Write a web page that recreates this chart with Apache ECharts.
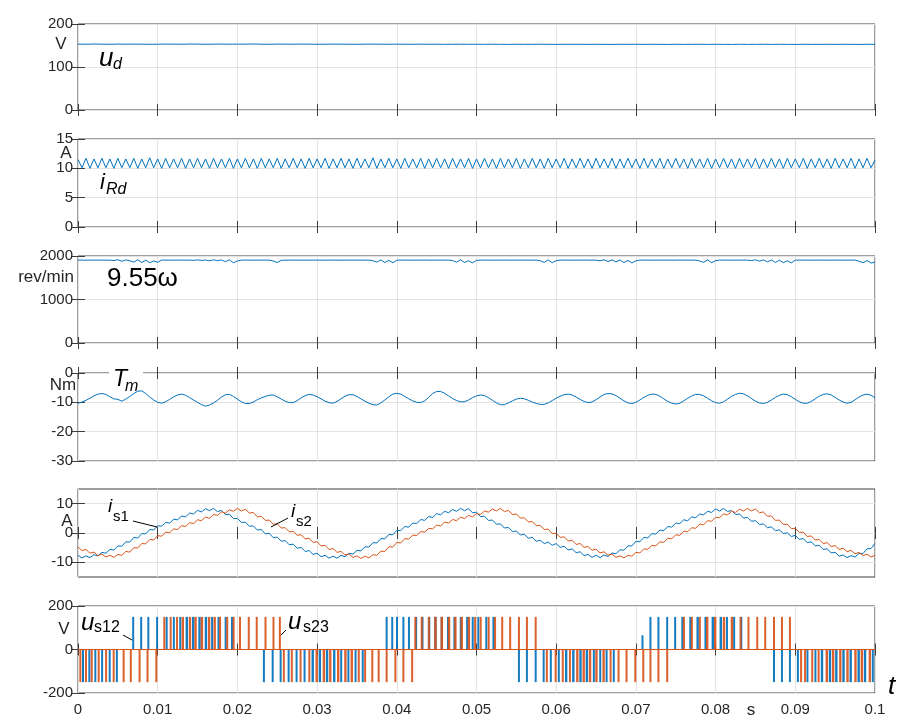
<!DOCTYPE html>
<html>
<head>
<meta charset="utf-8">
<script src="https://cdn.jsdelivr.net/npm/echarts@6/dist/echarts.min.js"></script>
<style>
  html, body { margin: 0; padding: 0; background: #ffffff; }
  #chart { width: 900px; height: 720px; }
</style>
</head>
<body>
<div id="chart"></div>
<script>
// ---------------- data ----------------
// time axis (s)
const tMin = 0, tMax = 0.1, tStep = 0.01;

// DC link voltage u_d (V), 1 ms samples
const udStepMs = 1;
const ud = [
  153.2,153.0,153.4,153.1,152.9,153.3,153.0,153.2,153.1,152.8,
  153.0,153.3,153.1,153.0,153.4,153.2,152.9,153.1,153.3,153.0,
  153.2,153.1,153.5,153.0,152.9,153.2,153.1,153.0,153.3,153.1,
  152.9,153.0,153.2,153.1,153.0,152.8,153.1,153.2,153.0,152.9,
  153.1,153.0,152.8,153.1,152.9,153.0,152.7,152.9,153.0,152.8,
  152.9,152.7,153.0,152.8,152.6,152.9,152.8,152.7,153.0,152.8,
  152.6,152.9,152.7,152.8,152.6,152.9,152.7,152.5,152.8,152.7,
  152.9,152.6,152.8,152.7,152.5,152.8,152.6,152.7,152.9,152.6,
  152.8,152.7,152.5,152.8,152.6,152.7,152.9,152.6,152.8,152.7,
  152.5,152.8,152.6,152.7,152.9,152.6,152.8,152.7,152.5,152.8,
  152.7
];

// resistor current i_Rd (A), 0.5 ms samples
const iRdStepMs = 0.5;
const iRd = [
  11.5,10.1,11.7,10.0,11.6,10.1,11.7,10.1,11.6,10.0,
  11.7,10.1,11.6,10.1,11.7,10.0,11.6,10.1,11.8,10.1,
  11.6,10.0,11.7,10.1,11.6,10.1,11.7,10.0,11.6,10.1,
  11.7,10.1,11.6,10.0,11.7,10.1,11.6,10.1,11.7,10.0,
  11.6,10.1,11.7,10.1,11.6,10.0,11.7,10.1,11.6,10.1,
  11.7,10.0,11.6,10.1,11.7,10.1,11.6,10.0,11.7,10.1,
  11.6,10.1,11.7,10.0,11.6,10.1,11.7,10.1,11.6,10.0,
  11.7,10.1,11.6,10.1,11.8,10.0,11.6,10.1,11.7,10.1,
  11.6,10.0,11.7,10.1,11.6,10.1,11.7,10.0,11.6,10.1,
  11.7,10.1,11.6,10.0,11.7,10.1,11.6,10.1,11.7,10.0,
  11.6,10.1,11.7,10.1,11.6,10.0,11.7,10.1,11.6,10.1,
  11.7,10.0,11.6,10.1,11.7,10.1,11.6,10.0,11.7,10.1,
  11.6,10.1,11.7,10.0,11.6,10.1,11.7,10.1,11.6,10.0,
  11.7,10.1,11.6,10.1,11.7,10.0,11.6,10.1,11.7,10.1,
  11.6,10.0,11.7,10.1,11.6,10.1,11.7,10.0,11.6,10.1,
  11.7,10.1,11.6,10.0,11.7,10.1,11.6,10.1,11.7,10.0,
  11.6,10.1,11.7,10.1,11.6,10.0,11.7,10.1,11.6,10.1,
  11.7,10.0,11.6,10.1,11.7,10.1,11.6,10.0,11.7,10.1,
  11.6,10.1,11.7,10.0,11.6,10.1,11.7,10.1,11.6,10.0,
  11.7,10.1,11.6,10.1,11.7,10.0,11.6,10.1,11.7,10.1,
  11.4
];

// rotor speed 9.55*omega (rev/min), 0.5 ms samples
const speedStepMs = 0.5;
const speed = [
  1905,1906,1904,1905,1905,1906,1905,1904,1905,
  1895,1915,1880,1910,1890,1860,1912,1850,1905,1845,1885,1855,
  1906,1905,1904,1905,1906,1905,1904,1905,
  1900,1910,1898,1908,1890,1912,1895,1908,1870,1910,1845,1885,
  1905,1906,1905,1904,1905,1905,1906,1905,
  1885,1850,1900,
  1905,1904,1906,1905,1905,1904,1905,1906,1905,1905,1904,1905,1906,1905,1904,1905,1905,1906,1905,1904,1905,1905,
  1890,1860,1910,1850,1900,1845,1905,
  1905,1906,1905,1904,1905,1905,1906,1905,1904,1905,1906,1905,1905,
  1895,1858,1912,1850,1890,1842,1900,
  1905,1906,1905,1904,1905,1905,1906,1905,1904,1905,1906,1905,1905,1904,1905,
  1890,1855,1910,1845,1895,
  1905,1906,1905,1904,1905,1905,1906,1905,1904,1905,
  1890,1912,1875,1910,1865,1908,1850,1900,1840,1890,
  1905,1906,1905,1904,1905,1905,1906,1905,1904,1905,1906,1905,1905,1904,1905,
  1885,1855,1910,1845,1895,
  1905,1906,1905,1904,1905,1905,1906,1905,
  1895,1912,1880,1910,1865,1908,1852,1902,1848,1890,1842,
  1905,1906,1905,1904,1905,1905,1906,1905,1904,1905,1906,1905,1905,1904,1905,1906,
  1880,1845,1895,1838,1860
];

// electromagnetic torque T_m (Nm), 0.5 ms samples
const tmStepMs = 0.5;
const torque = [
  -10.3,-9.9,-9.3,-8.6,-7.8,-7.2,-7.0,-7.3,-8.1,-8.8,
  -9.0,-9.6,-8.9,-8.0,-7.0,-6.2,-6.1,-7.0,-8.2,-9.2,
  -10.0,-10.3,-9.8,-9.0,-8.1,-7.5,-7.2,-7.6,-8.4,-9.2,
  -10.0,-10.8,-11.3,-10.9,-10.2,-9.3,-8.2,-7.4,-7.3,-8.0,
  -8.9,-9.8,-10.4,-10.4,-9.9,-9.1,-8.5,-8.0,-7.6,-7.5,
  -8.1,-8.9,-9.6,-10.1,-10.1,-9.4,-8.5,-7.7,-7.3,-7.5,
  -8.1,-8.8,-9.6,-10.1,-10.3,-9.7,-8.8,-7.9,-7.4,-7.4,
  -8.0,-8.8,-9.6,-10.3,-10.8,-10.9,-10.2,-9.2,-8.1,-7.2,
  -6.9,-7.2,-8.0,-8.8,-9.5,-10.0,-10.1,-9.5,-8.3,-7.0,
  -6.3,-6.3,-6.9,-7.8,-8.7,-9.4,-9.8,-9.8,-9.2,-8.4,
  -7.8,-7.5,-7.7,-8.4,-9.3,-10.2,-10.8,-10.8,-10.2,-9.5,
  -8.9,-8.6,-8.8,-9.3,-9.9,-10.4,-10.7,-10.7,-10.2,-9.4,
  -8.6,-7.9,-7.4,-7.2,-7.5,-8.2,-9.0,-9.7,-10.1,-9.9,
  -9.1,-8.2,-7.3,-7.0,-7.1,-7.7,-8.6,-9.5,-10.2,-10.4,
  -10.0,-9.2,-8.3,-7.6,-7.2,-7.3,-7.9,-8.8,-9.7,-10.3,
  -10.6,-10.3,-9.5,-8.6,-7.8,-7.3,-7.3,-7.8,-8.6,-9.5,
  -10.1,-10.3,-9.8,-8.9,-8.0,-7.3,-6.9,-7.1,-7.8,-8.7,
  -9.6,-10.2,-10.4,-10.0,-9.2,-8.3,-7.6,-7.2,-7.4,-8.1,
  -9.0,-9.8,-10.3,-10.3,-9.7,-8.8,-7.9,-7.3,-7.1,-7.5,
  -8.3,-9.2,-9.9,-10.3,-10.0,-9.1,-8.2,-7.5,-7.2,-7.6,
  -8.4
];

// stator currents i_s1, i_s2 (A), 0.5 ms samples
const isStepMs = 0.5;
const is1 = [
  -7.6,-8.5,-7.8,-8.4,-7.4,-7.8,-6.6,-6.9,-5.6,-5.8,
  -4.4,-4.5,-3.0,-3.1,-1.5,-1.7,-0.2,-0.3,1.2,1.0,
  2.5,2.3,3.6,3.4,4.7,4.5,5.8,5.5,6.8,6.5,
  7.7,7.2,8.3,7.6,8.4,7.3,7.7,6.3,6.4,4.9,
  5.0,3.6,3.7,2.3,2.4,1.0,1.2,-0.3,-0.1,-1.6,
  -1.4,-2.8,-2.6,-4.0,-3.8,-5.2,-4.9,-6.3,-6.0,-7.3,
  -6.9,-8.1,-7.6,-8.6,-7.9,-8.6,-7.6,-8.1,-6.9,-7.2,
  -5.9,-6.1,-4.7,-4.8,-3.3,-3.4,-1.9,-2.0,-0.5,-0.6,
  0.9,0.8,2.2,2.0,3.4,3.2,4.6,4.3,5.6,5.3,
  6.6,6.2,7.4,6.9,8.0,7.4,8.4,7.6,8.3,6.9,
  7.1,5.6,5.7,4.3,4.4,3.0,3.1,1.7,1.9,0.5,
  0.7,-0.7,-0.4,-1.8,-1.5,-2.8,-2.5,-3.6,-3.1,-4.2,
  -3.6,-4.9,-4.5,-5.8,-5.4,-6.7,-6.4,-7.7,-7.3,-8.3,
  -7.6,-8.4,-7.5,-8.0,-6.8,-7.1,-5.7,-5.9,-4.4,-4.4,
  -2.8,-3.0,-1.5,-1.7,-0.2,-0.4,1.0,0.8,2.2,2.0,
  3.4,3.2,4.5,4.2,5.5,5.2,6.5,6.2,7.4,7.0,
  8.2,7.5,8.4,7.3,7.7,6.3,6.5,5.1,5.3,4.0,
  4.2,2.9,3.1,1.8,2.1,0.8,1.1,-0.2,0.1,-1.2,
  -0.8,-2.2,-1.9,-3.3,-3.0,-4.4,-4.2,-5.6,-5.4,-6.8,
  -6.6,-7.9,-7.5,-8.4,-7.7,-8.2,-7.0,-7.0,-5.4,-5.3,
  -3.6
];
const is2 = [
  -4.8,-6.0,-5.6,-6.9,-6.5,-7.7,-7.2,-8.2,-7.6,-8.3,
  -7.3,-7.6,-6.3,-6.5,-5.0,-5.1,-3.6,-3.7,-2.2,-2.4,
  -0.9,-1.1,0.3,0.1,1.4,1.2,2.5,2.2,3.5,3.2,
  4.5,4.2,5.4,5.0,6.3,6.0,7.2,6.8,7.9,7.4,
  8.4,7.5,8.1,6.8,7.0,5.5,5.7,4.3,4.4,3.0,
  3.1,1.7,1.8,0.4,0.6,-0.8,-0.6,-2.0,-1.8,-3.2,
  -3.0,-4.4,-4.2,-5.6,-5.3,-6.6,-6.3,-7.5,-7.1,-8.3,
  -7.8,-8.7,-7.9,-8.5,-7.4,-7.6,-6.2,-6.3,-4.7,-4.8,
  -3.2,-3.4,-1.9,-2.1,-0.7,-0.9,0.5,0.3,1.6,1.4,
  2.7,2.4,3.7,3.4,4.6,4.2,5.4,4.9,6.0,5.5,
  6.6,6.3,7.5,7.1,8.2,7.5,8.4,7.3,7.7,6.3,
  6.5,5.1,5.2,3.8,3.9,2.5,2.6,1.2,1.3,-0.2,
  -0.1,-1.5,-1.3,-2.7,-2.5,-3.9,-3.6,-4.9,-4.6,-5.9,
  -5.5,-6.8,-6.4,-7.6,-7.2,-8.3,-7.8,-8.5,-7.6,-7.9,
  -6.6,-6.8,-5.4,-5.6,-4.2,-4.4,-3.0,-3.2,-1.8,-2.0,
  -0.6,-0.8,0.6,0.4,1.8,1.6,3.0,2.8,4.2,4.0,
  5.4,5.2,6.5,6.2,7.4,7.0,8.1,7.5,8.4,7.5,
  8.2,6.9,7.2,5.7,5.8,4.3,4.4,2.9,3.0,1.5,
  1.6,0.2,0.3,-1.2,-1.0,-2.4,-2.2,-3.6,-3.3,-4.6,
  -4.3,-5.6,-5.2,-6.4,-5.9,-7.1,-6.6,-7.7,-7.2,-8.2,
  -7.6
];

// line voltage pulses: [start (ms), width (ms), optional height (V)]
const pulseLevel = 150;
const us12Pos = [
  [6.8,0.12],[7.8,0.2],[8.7,0.2],[9.8,0.22],[11.0,0.25],[11.9,0.25],[12.7,0.25],[13.5,0.3],[14.3,0.3],[15.1,0.3],[15.9,0.3],[16.7,0.25],[17.5,0.25],[18.4,0.2],[19.2,0.12],
  [38.6,0.12],[39.3,0.15],[39.9,0.2],[40.7,0.2],[41.4,0.2],[42.3,0.25],[43.1,0.25],[43.9,0.3],[44.7,0.3],[45.5,0.3],[46.3,0.3],[47.1,0.3],[47.9,0.25],[48.7,0.25],[49.4,0.25],[50.1,0.2],[51.1,0.2],[52.0,0.15],
  [70.7,0.12,65],[71.7,0.2],[72.7,0.2],[73.8,0.2],[74.8,0.25],[75.7,0.25],[76.7,0.25],[77.6,0.3],[78.6,0.3],[79.5,0.3],[80.5,0.3],[81.3,0.25],[82.2,0.2],[83.1,0.15]
];
const us12Neg = [
  [0.5,0.25],[1.3,0.25],[2.05,0.25],[2.9,0.2],[3.85,0.2],[4.75,0.15],
  [23.2,0.12],[24.3,0.2],[25.3,0.2],[26.3,0.25],[27.3,0.25],[28.3,0.25],[29.3,0.3],[30.2,0.3],[31.1,0.3],[32.0,0.3],[32.9,0.25],[33.8,0.25],[34.7,0.2],[35.6,0.15],
  [55.2,0.12],[56.2,0.2],[57.3,0.2],[58.3,0.25],[59.2,0.25],[60.2,0.25],[61.1,0.3],[62.0,0.3],[62.9,0.3],[63.7,0.3],[64.6,0.25],[65.4,0.25],[66.2,0.2],[67.1,0.15],
  [87.2,0.12],[88.2,0.2],[89.2,0.2],[90.2,0.25],[91.4,0.25],[92.4,0.25],[93.2,0.3],[94.2,0.3],[95.0,0.3],[95.9,0.3],[96.8,0.3],[97.8,0.3],[98.6,0.3],[99.6,0.25]
];
const us23Pos = [
  [10.7,0.2],[11.5,0.25],[12.3,0.25],[13.0,0.3],[13.9,0.3],[14.6,0.3],[15.4,0.3],[16.3,0.3],[17.0,0.3],[17.7,0.25],[18.6,0.25],[19.4,0.25],[20.2,0.2],[21.3,0.2],[22.3,0.2],[23.4,0.2],[24.4,0.15],[25.2,0.12],
  [42.2,0.2],[43.0,0.25],[43.9,0.25],[44.7,0.3],[45.5,0.3],[46.4,0.3],[47.2,0.3],[48.0,0.3],[48.9,0.3],[49.7,0.25],[50.4,0.25],[51.4,0.25],[52.2,0.2],[53.1,0.2],[54.1,0.2],[55.2,0.2],[56.2,0.15],[57.3,0.12],
  [75.9,0.2],[76.9,0.25],[77.9,0.25],[78.8,0.3],[79.8,0.3],[80.9,0.3],[81.9,0.3],[83.0,0.25],[84.0,0.25],[85.1,0.2],[86.1,0.2],[87.2,0.2],[88.2,0.15],[89.2,0.12]
];
const us23Neg = [
  [0.17,0.25],[0.88,0.25],[1.6,0.25],[2.47,0.25],[3.4,0.25],[4.35,0.2],[5.6,0.2],[6.5,0.2],[7.6,0.2],[8.6,0.15],[9.7,0.12],
  [25.7,0.2],[26.7,0.2],[27.8,0.25],[28.9,0.25],[29.8,0.3],[30.7,0.3],[31.5,0.3],[32.5,0.3],[33.4,0.3],[34.2,0.3],[35.1,0.25],[35.9,0.25],[36.8,0.2],[37.6,0.2],[38.6,0.2],[39.7,0.2],[40.7,0.15],[41.8,0.12],
  [58.7,0.2],[59.8,0.2],[60.7,0.25],[61.6,0.25],[62.5,0.3],[63.3,0.3],[64.1,0.3],[64.9,0.3],[65.8,0.3],[66.7,0.25],[67.7,0.25],[68.7,0.2],[69.8,0.2],[70.8,0.2],[71.7,0.2],[72.7,0.15],[73.8,0.12],
  [90.6,0.15],[91.1,0.2],[92.0,0.25],[92.8,0.25],[93.8,0.3],[94.6,0.3],[95.5,0.3],[96.4,0.3],[97.4,0.3],[98.2,0.3],[99.2,0.3]
];

// y-axis scales per panel (top to bottom)
const yScales = [
  { min: 0,    max: 200,  interval: 100 },
  { min: 0,    max: 15,   interval: 5 },
  { min: 0,    max: 2000, interval: 1000 },
  { min: -30,  max: 0,    interval: 10 },
  { min: -15,  max: 15,   interval: 5, ticks: [-10, 0, 10] },
  { min: -200, max: 200,  interval: 200 }
];
const yUnits = ['V', 'A', 'rev/min', 'Nm', 'A', 'V'];

// ---------------- helpers ----------------
const BLUE = '#0072BD', ORANGE = '#D95319';
const AXIS = '#3c3c3c', GRIDLINE = '#e3e3e3', TEXT = '#262626';
const FONT = '"Liberation Sans", Arial, Helvetica, sans-serif';

function sampled(values, stepMs) {
  return values.map((v, i) => [+(i * stepMs / 1000).toFixed(6), v]);
}
// pulse list -> [startSec, endSec, level] rows for the custom series
function pulseRows(pos, neg, level) {
  const rows = [];
  pos.forEach(p => rows.push([p[0] / 1000, (p[0] + p[1]) / 1000, p.length > 2 ? p[2] : level]));
  neg.forEach(p => rows.push([p[0] / 1000, (p[0] + p[1]) / 1000, p.length > 2 ? -p[2] : -level]));
  rows.sort((a, b) => a[0] - b[0]);
  return rows;
}

// ---------------- layout ----------------
const gridLeft = 78, gridRight = 25;
const panels = [
  { top: 24,  height: 86 },
  { top: 139, height: 88 },
  { top: 256, height: 87 },
  { top: 373, height: 88 },
  { top: 489, height: 88 },
  { top: 606, height: 87 }
];

const grid = [], xAxis = [], yAxis = [];
panels.forEach((p, i) => {
  grid.push({ left: gridLeft, right: gridRight, top: p.top, height: p.height,
    show: true, borderColor: AXIS, borderWidth: 1, backgroundColor: 'transparent' });
  const last = i === panels.length - 1;
  const xBase = { type: 'value', gridIndex: i, min: tMin, max: tMax, interval: tStep,
    axisLine: { show: false },
    axisTick: { show: true, inside: true, length: 6, lineStyle: { color: AXIS } } };
  xAxis.push(Object.assign({}, xBase, {
    position: 'bottom',
    splitLine: { show: true, lineStyle: { color: GRIDLINE, width: 1 } },
    axisLabel: { show: last, color: TEXT, fontFamily: FONT, fontSize: 15, margin: 9 }
  }));
  xAxis.push(Object.assign({}, xBase, {
    position: 'top', splitLine: { show: false }, axisLabel: { show: false }
  }));
  const s = yScales[i];
  const tickOpt = { show: true, inside: true, length: 7, lineStyle: { color: AXIS } };
  const labelOpt = { color: TEXT, fontFamily: FONT, fontSize: 15, margin: 5,
    formatter: v => String(v) };
  if (s.ticks) { tickOpt.customValues = s.ticks; labelOpt.customValues = s.ticks; }
  const yBase = { type: 'value', gridIndex: i, min: s.min, max: s.max, interval: s.interval,
    axisLine: { show: false }, axisTick: tickOpt };
  yAxis.push(Object.assign({}, yBase, {
    position: 'left',
    splitLine: { show: true, lineStyle: { color: GRIDLINE, width: 1 } },
    axisLabel: labelOpt
  }));
  yAxis.push(Object.assign({}, yBase, {
    position: 'right', splitLine: { show: false }, axisLabel: { show: false }
  }));
});

function lineSeries(idx, data, color) {
  return { type: 'line', xAxisIndex: 2 * idx, yAxisIndex: 2 * idx, data: data,
    showSymbol: false, symbol: 'none', animation: false,
    lineStyle: { color: color, width: 1 }, itemStyle: { color: color }, z: 3 };
}
// PWM pulses drawn as thin filled bars from 0 to their level
function pulseSeries(idx, rows, color) {
  return { type: 'custom', xAxisIndex: 2 * idx, yAxisIndex: 2 * idx, data: rows,
    encode: { x: [0, 1], y: 2 }, animation: false, z: 3, clip: true,
    renderItem: function (params, api) {
      const a = api.coord([api.value(0), 0]);
      const b = api.coord([api.value(1), api.value(2)]);
      const w = Math.max(b[0] - a[0], 2);
      return { type: 'rect',
        shape: { x: a[0], y: Math.min(a[1], b[1]), width: w, height: Math.abs(b[1] - a[1]) },
        style: { fill: color, opacity: 0.92 } };
    } };
}

const series = [
  lineSeries(0, sampled(ud, udStepMs), BLUE),
  lineSeries(1, sampled(iRd, iRdStepMs), BLUE),
  lineSeries(2, sampled(speed, speedStepMs), BLUE),
  lineSeries(3, sampled(torque, tmStepMs), BLUE),
  lineSeries(4, sampled(is1, isStepMs), BLUE),
  lineSeries(4, sampled(is2, isStepMs), ORANGE),
  pulseSeries(5, pulseRows(us12Pos, us12Neg, pulseLevel), BLUE),
  pulseSeries(5, pulseRows(us23Pos, us23Neg, pulseLevel), ORANGE),
  lineSeries(5, [[tMin, 0], [tMax, 0]], ORANGE)
];

// ---------------- annotations ----------------
function txt(x, y, text, size, opts) {
  opts = opts || {};
  return { type: 'text', x: x, y: y, z: 110, silent: true,
    style: { text: text, fill: opts.color || '#000',
      font: (opts.italic ? 'italic ' : '') + size + 'px ' + FONT,
      align: opts.align || 'left', verticalAlign: 'middle' } };
}
function leader(x1, y1, x2, y2) {
  return { type: 'line', z: 110, silent: true, shape: { x1: x1, y1: y1, x2: x2, y2: y2 },
    style: { stroke: '#000', lineWidth: 1 } };
}
const unitPos = [[61, 44], [66, 153], [46, 277], [63, 385], [67, 521], [64, 629]];
const graphics = [];
yUnits.forEach((u, i) => graphics.push(txt(unitPos[i][0], unitPos[i][1], u, 17, { align: 'center', color: TEXT })));
graphics.push(
  txt(99, 59, 'u', 26, { italic: true }), txt(113, 65, 'd', 16, { italic: true }),
  txt(100, 183, 'i', 22, { italic: true }), txt(106, 190, 'Rd', 16, { italic: true }),
  txt(107, 279, '9.55ω', 26, {}),
  { type: 'rect', z: 105, silent: true, shape: { x: 109, y: 366, width: 34, height: 20 }, style: { fill: '#fff' } },
  txt(113, 380, 'T', 23, { italic: true }), txt(125, 387, 'm', 16, { italic: true }),
  txt(108, 507, 'i', 19, { italic: true }), txt(113, 517, 's1', 15, {}),
  leader(133, 521, 157, 527),
  txt(291, 512, 'i', 19, { italic: true }), txt(296, 522, 's2', 15, {}),
  leader(288, 518, 271, 527),
  txt(81, 623, 'u', 24, { italic: true }), txt(94, 628, 's12', 16, {}),
  leader(123, 635, 132, 640),
  txt(288, 622, 'u', 24, { italic: true }), txt(303, 628, 's23', 16, {}),
  leader(286, 630, 281, 635),
  txt(888, 687, 't', 26, { italic: true }),
  txt(751, 710, 's', 17, { align: 'center', color: TEXT })
);

const chart = echarts.init(document.getElementById('chart'), null, { renderer: 'canvas' });
chart.setOption({
  backgroundColor: '#ffffff',
  animation: false,
  grid: grid,
  xAxis: xAxis,
  yAxis: yAxis,
  series: series,
  graphic: { elements: graphics }
});
</script>
</body>
</html>
